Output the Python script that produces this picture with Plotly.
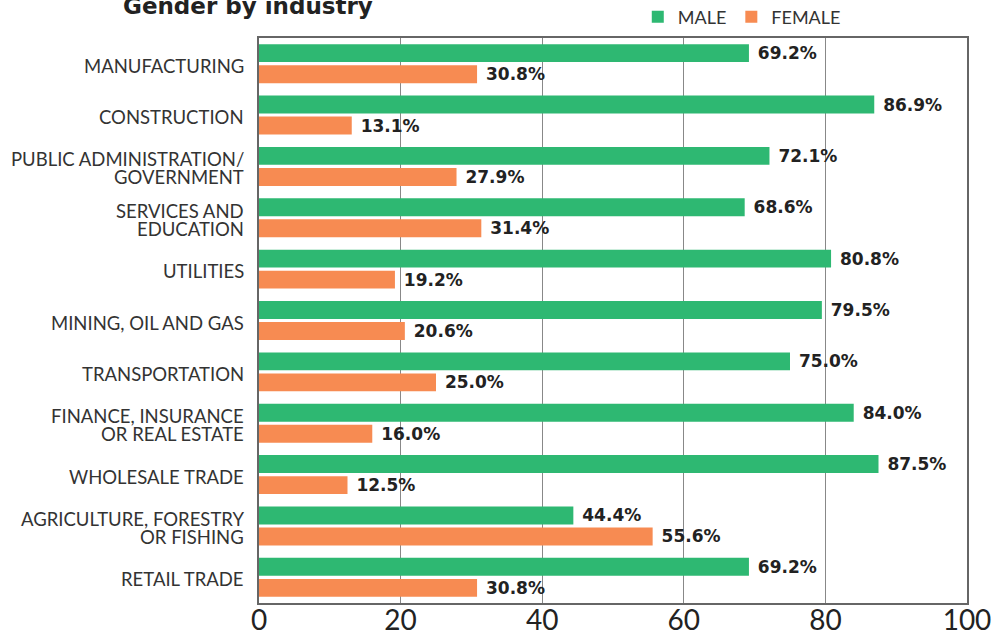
import plotly.graph_objects as go

categories = [
    "MANUFACTURING",
    "CONSTRUCTION",
    "PUBLIC ADMINISTRATION/<br>GOVERNMENT",
    "SERVICES AND<br>EDUCATION",
    "UTILITIES",
    "MINING, OIL AND GAS",
    "TRANSPORTATION",
    "FINANCE, INSURANCE<br>OR REAL ESTATE",
    "WHOLESALE TRADE",
    "AGRICULTURE, FORESTRY<br>OR FISHING",
    "RETAIL TRADE",
]
male = [69.2, 86.9, 72.1, 68.6, 80.8, 79.5, 75.0, 84.0, 87.5, 44.4, 69.2]
female = [30.8, 13.1, 27.9, 31.4, 19.2, 20.6, 25.0, 16.0, 12.5, 55.6, 30.8]
tick_vals = [0, 20, 40, 60, 80, 100]

GREEN = "#2EB872"
ORANGE = "#F78B52"
TEXT = "#222222"
LABEL = "#333333"
FONT = "Lato"

fig = go.Figure()
for name, vals, col in [("MALE", male, GREEN), ("FEMALE", female, ORANGE)]:
    fig.add_trace(go.Bar(
        y=categories, x=vals, orientation="h", name=name,
        marker=dict(color=col, line=dict(width=0)),
        text=[f"\u00a0{v:.1f}%" for v in vals], textposition="outside",
        constraintext="none",
        textfont=dict(family="DejaVu Sans", size=17, color=TEXT, weight="bold"),
        cliponaxis=False,
    ))

# category labels as annotations (tight two-line spacing like the reference)
annotations = []
for cat in categories:
    lines = cat.split("<br>")
    n = len(lines)
    for i, line in enumerate(lines):
        shift = (n - 1) * 9 - i * 18 - 2
        annotations.append(dict(
            text=line, xref="paper", yref="y", x=0, y=cat,
            xanchor="right", yanchor="middle", xshift=-13, yshift=shift,
            showarrow=False, font=dict(family=FONT, size=18.5, color=LABEL),
        ))
annotations.append(dict(
    text="<b>Gender by industry</b>", xref="paper", yref="paper",
    x=-0.195, y=1.057, xanchor="left", yanchor="middle", showarrow=False,
    font=dict(family="DejaVu Sans", size=23, color=TEXT),
))

fig.update_layout(
    width=998, height=636,
    margin=dict(l=259, r=31, t=38, b=33, autoexpand=False),
    paper_bgcolor="white", plot_bgcolor="white",
    barmode="group", bargap=0.18, bargroupgap=0.15,
    font=dict(family=FONT, color=TEXT),
    showlegend=True,
    legend=dict(
        orientation="h", x=0.535, y=1.037, xanchor="left", yanchor="middle",
        font=dict(family=FONT, size=18, color=LABEL),
        bgcolor="rgba(0,0,0,0)", traceorder="normal",
    ),
    annotations=annotations,
)
fig.update_xaxes(
    range=[0, 100], tickvals=tick_vals, ticktext=[str(v) for v in tick_vals],
    showgrid=True, gridcolor="#888888", gridwidth=1,
    showline=True, linecolor="#666666", linewidth=1.5, mirror=True,
    ticks="", ticklabelstandoff=-8,
    tickfont=dict(family=FONT, size=28, color=TEXT),
    zeroline=False, fixedrange=True,
)
fig.update_yaxes(
    autorange="reversed", showgrid=False, showticklabels=False,
    showline=True, linecolor="#666666", linewidth=1.5, mirror=True,
    ticks="", fixedrange=True,
)

fig.write_html("out.html", config={"displayModeBar": False},
               post_script="document.body.style.margin='0';")
